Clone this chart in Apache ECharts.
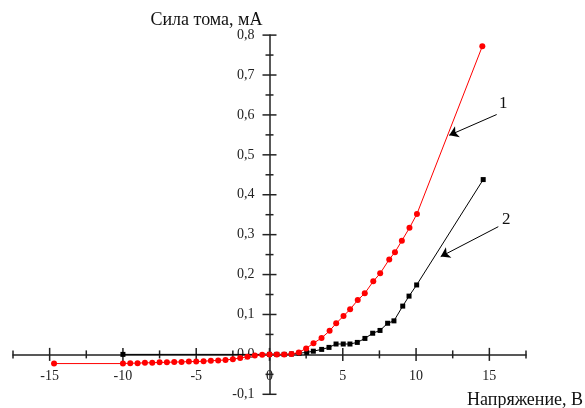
<!DOCTYPE html>
<html>
<head>
<meta charset="utf-8">
<script src="https://cdn.jsdelivr.net/npm/echarts@6/dist/echarts.min.js"></script>
<style>html,body{margin:0;padding:0;background:#fff}#c{width:585px;height:408px}</style>
</head>
<body>
<div id="c"></div>
<script>
// Curve 1 (red, circles): voltage (V) and current (mA)
const curve1X = [-14.7, -10, -9.5, -9, -8.5, -8, -7.5, -7, -6.5, -6, -5.5, -5, -4.5, -4, -3.5, -3, -2.5, -2, -1.5, -1, -0.5,
  0, 0.5, 1, 1.5, 2, 2.5, 3, 3.55, 4.1, 4.55, 5.05, 5.5, 6.02, 6.5, 7.08, 7.55, 8.17, 8.56, 9.03, 9.55, 10.06, 14.52];
const curve1Y = [-0.023, -0.023, -0.022, -0.022, -0.021, -0.021, -0.020, -0.020, -0.019, -0.019, -0.018, -0.018, -0.017, -0.016, -0.015, -0.014, -0.012, -0.009, -0.006, -0.003, -0.001,
  0, 0, 0, 0.001, 0.005, 0.015, 0.028, 0.041, 0.059, 0.078, 0.096, 0.113, 0.136, 0.153, 0.183, 0.203, 0.238, 0.256, 0.285, 0.317, 0.352, 0.772];
// Curve 2 (black, squares)
const curve2X = [-10, 0, 0.5, 1, 1.5, 2.02, 2.54, 2.99, 3.56, 4.06, 4.54, 5.03, 5.49, 5.99, 6.51, 7.04, 7.54, 8.06, 8.49, 9.09, 9.52, 10.04, 14.58];
const curve2Y = [0, 0, 0, 0, 0.001, 0.003, 0.005, 0.008, 0.0125, 0.0175, 0.026, 0.026, 0.026, 0.030, 0.040, 0.053, 0.060, 0.078, 0.084, 0.121, 0.146, 0.174, 0.438];
// Axis ticks and tick labels
const xTickValues = [-17.5, -15, -12.5, -10, -7.5, -5, -2.5, 0, 2.5, 5, 7.5, 10, 12.5, 15, 17.5];
const yTickValues = [-0.1, -0.05, 0, 0.05, 0.1, 0.15, 0.2, 0.25, 0.3, 0.35, 0.4, 0.45, 0.5, 0.55, 0.6, 0.65, 0.7, 0.75, 0.8];
const xLabelValues = [-15, -10, -5, 0, 5, 10, 15];
const xLabelTexts = ['-15', '-10', '-5', '0', '5', '10', '15'];
const yLabelValues = [-0.1, 0, 0.1, 0.2, 0.3, 0.4, 0.5, 0.6, 0.7, 0.8];
const yLabelTexts = ['-0,1', '0,0', '0,1', '0,2', '0,3', '0,4', '0,5', '0,6', '0,7', '0,8'];
// Annotation labels and arrows (data coordinates)
const labelNames = ['1', '2'];
const labelPos = [[15.95, 0.629], [16.15, 0.338]];
const arrowFrom = [[15.5, 0.601], [15.61, 0.32]];
const arrowTo = [[12.26, 0.549], [11.68, 0.245]];

const AX = '#222';
const FONT = '"Liberation Serif", "Times New Roman", serif';
const zip = (a, b) => a.map((v, i) => [v, b[i]]);
const isMult = (v, s) => Math.abs(v / s - Math.round(v / s)) < 1e-6;

const chart = echarts.init(document.getElementById('c'), null, { renderer: 'canvas' });
chart.setOption({
  animation: false,
  backgroundColor: '#fff',
  grid: { left: 13, right: 59, top: 35.1, bottom: 13.7, containLabel: false, outerBoundsMode: 'none' },
  xAxis: {
    type: 'value', min: -17.5, max: 17.5, interval: 2.5,
    axisLine: { onZero: true, lineStyle: { color: AX, width: 1.5 } },
    axisTick: { show: false },
    splitLine: { show: false },
    axisLabel: { show: false },
    name: 'Напряжение, В', nameLocation: 'end', nameGap: -59,
    nameTextStyle: { fontFamily: FONT, fontSize: 18, color: '#111', align: 'left', verticalAlign: 'top', padding: [37, 0, 0, 0] }
  },
  yAxis: {
    type: 'value', min: -0.1, max: 0.8, interval: 0.1,
    axisLine: { onZero: true, lineStyle: { color: AX, width: 1.5 } },
    axisTick: { show: false },
    splitLine: { show: false },
    axisLabel: { show: false },
    name: 'Сила тома, мА', nameLocation: 'end', nameGap: 15,
    nameTextStyle: { fontFamily: FONT, fontSize: 18, color: '#111', align: 'right', verticalAlign: 'middle', padding: [0, 7, 0, 0] }
  },
  series: [
    {
      name: 'xTicks', type: 'custom', silent: true, z: 1,
      data: xTickValues.map(v => [v, 0]),
      renderItem: (params, api) => {
        const v = api.value(0);
        const p = api.coord([v, 0]);
        const h = isMult(v, 5) ? 6.5 : 4;
        return { type: 'line', shape: { x1: p[0], y1: p[1] - h, x2: p[0], y2: p[1] + h }, style: { stroke: AX, lineWidth: 1.5 } };
      }
    },
    {
      name: 'yTicks', type: 'custom', silent: true, z: 1,
      data: yTickValues.map(v => [0, v]),
      renderItem: (params, api) => {
        const v = api.value(1);
        const p = api.coord([0, v]);
        const h = isMult(v, 0.1) ? 7 : 4;
        return { type: 'line', shape: { x1: p[0] - h, y1: p[1], x2: p[0] + h, y2: p[1] }, style: { stroke: AX, lineWidth: 1.5 } };
      }
    },
    {
      name: 'xLabels', type: 'custom', silent: true, z: 2,
      data: xLabelValues.map(v => [v, 0]),
      renderItem: (params, api) => {
        const p = api.coord([api.value(0), 0]);
        return { type: 'text', style: { text: xLabelTexts[params.dataIndex], x: p[0], y: p[1] + 15, align: 'center', verticalAlign: 'top', fill: AX, font: '14px ' + FONT } };
      }
    },
    {
      name: 'yLabels', type: 'custom', silent: true, z: 2,
      data: yLabelValues.map(v => [0, v]),
      renderItem: (params, api) => {
        const p = api.coord([0, api.value(1)]);
        return { type: 'text', style: { text: yLabelTexts[params.dataIndex], x: p[0] - 15, y: p[1], align: 'right', verticalAlign: 'middle', fill: AX, font: '14px ' + FONT } };
      }
    },
    {
      name: '2', type: 'line', z: 3,
      data: zip(curve2X, curve2Y),
      symbol: 'rect', symbolSize: 5,
      lineStyle: { color: '#000', width: 1 },
      itemStyle: { color: '#000' },
      markLine: {
        silent: true, symbol: ['none', 'arrow'], symbolSize: 9,
        label: { show: false },
        lineStyle: { color: '#000', width: 1, type: 'solid' },
        data: arrowFrom.map((f, i) => [{ coord: f }, { coord: arrowTo[i] }])
      },
      markPoint: {
        silent: true, symbol: 'circle', symbolSize: 0,
        label: { show: true, position: 'inside', color: '#111', fontFamily: FONT, fontSize: 17, formatter: p => p.name },
        data: labelNames.map((n, i) => ({ name: n, coord: labelPos[i] }))
      }
    },
    {
      name: '1', type: 'line', z: 4,
      data: zip(curve1X, curve1Y),
      symbol: 'circle', symbolSize: 6,
      lineStyle: { color: '#ff0000', width: 1 },
      itemStyle: { color: '#ff0000' }
    }
  ]
});
</script>
</body>
</html>
